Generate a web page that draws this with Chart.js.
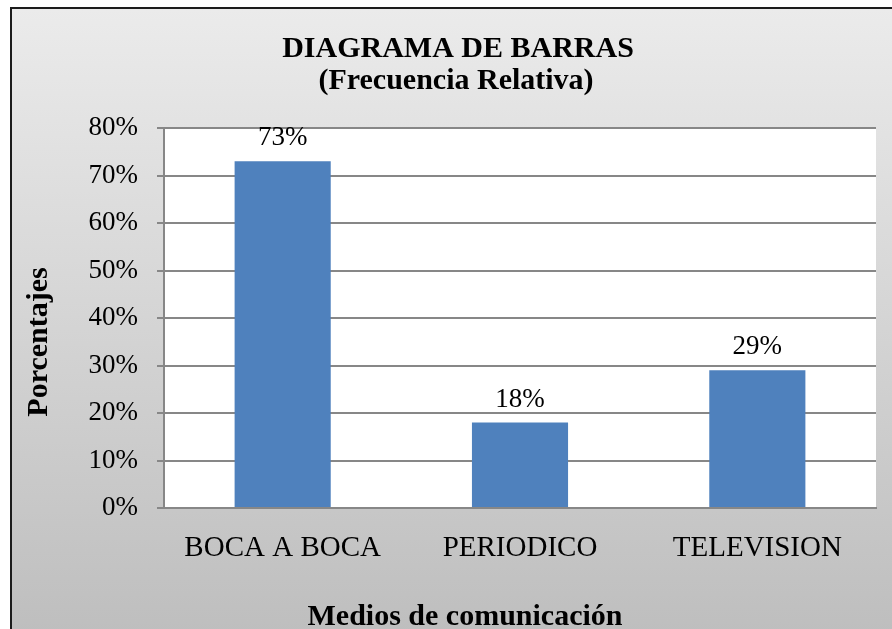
<!DOCTYPE html>
<html lang="es">
<head>
    <meta charset="UTF-8">
    <title>Diagrama de barras</title>
    <style>
        html, body { margin: 0; padding: 0; background: #fff; overflow: hidden; }
        .frame {
            position: absolute; left: 10px; top: 7px;
            width: 900px; height: 640px;
            border: 2px solid #1c1c1c;
            background: linear-gradient(#ebebeb, #bdbdbd);
        }
        #chart { position: absolute; left: 0; top: 0; }
    </style>
</head>
<body>
    <div class="frame"></div>
    <canvas id="chart" width="892" height="629"></canvas>

    <script src="https://cdn.jsdelivr.net/npm/chart.js"></script>
    <script>
        const categories = ['BOCA A BOCA', 'PERIODICO', 'TELEVISION'];
        const porcentajes = [73, 18, 29];
        const yTicks = [0, 10, 20, 30, 40, 50, 60, 70, 80];

        const serif = '"Liberation Serif", "Times New Roman", serif';
        const gridColor = '#878787';

        // fondo blanco del area de trazado
        const plotBg = {
            id: 'plotBg',
            beforeDraw(chart) {
                const a = chart.chartArea;
                chart.ctx.save();
                chart.ctx.fillStyle = '#fff';
                chart.ctx.fillRect(a.left, a.top, a.right - a.left, a.bottom - a.top);
                chart.ctx.restore();
            }
        };

        // titulos y etiquetas de valor
        const textos = {
            id: 'textos',
            afterDraw(chart) {
                const ctx = chart.ctx;
                ctx.save();
                ctx.fillStyle = '#000';
                ctx.textAlign = 'center';
                ctx.textBaseline = 'alphabetic';

                ctx.font = 'bold 30px ' + serif;
                ctx.fillText('DIAGRAMA DE BARRAS', 458, 57);
                ctx.fillText('(Frecuencia Relativa)', 456, 89);
                ctx.fillText('Medios de comunicación', 465, 625);

                ctx.save();
                ctx.translate(47, 342);
                ctx.rotate(-Math.PI / 2);
                ctx.fillText('Porcentajes', 0, 0);
                ctx.restore();

                ctx.font = '27px ' + serif;
                const meta = chart.getDatasetMeta(0);
                meta.data.forEach((bar, i) => {
                    ctx.fillText(porcentajes[i] + '%', bar.x, bar.y - 16);
                });
                ctx.restore();
            }
        };

        new Chart(document.getElementById('chart'), {
            type: 'bar',
            data: {
                labels: categories,
                datasets: [{
                    data: porcentajes,
                    backgroundColor: '#4f81bd',
                    borderWidth: 0,
                    categoryPercentage: 1,
                    barPercentage: 0.405
                }]
            },
            options: {
                responsive: false,
                animation: false,
                devicePixelRatio: 1,
                layout: { padding: { top: 128, right: 16, left: 0, bottom: 0 } },
                plugins: {
                    legend: { display: false },
                    tooltip: { enabled: false },
                    title: { display: false }
                },
                scales: {
                    x: {
                        grid: { display: false },
                        border: { display: true, color: gridColor, width: 2 },
                        ticks: { color: '#000', font: { family: serif, size: 29 }, padding: 15, maxRotation: 0 },
                        afterFit(scale) { scale.height = 121; }
                    },
                    y: {
                        min: 0,
                        max: 80,
                        afterBuildTicks(scale) { scale.ticks = yTicks.map(v => ({ value: v })); },
                        grid: { color: gridColor, lineWidth: 2, tickLength: 7 },
                        border: { display: true, color: gridColor, width: 2 },
                        ticks: {
                            color: '#000',
                            font: { family: serif, size: 27 },
                            padding: 19,
                            callback: v => v + '%'
                        },
                        afterFit(scale) { scale.width = 164; }
                    }
                }
            },
            plugins: [plotBg, textos]
        });
    </script>
</body>
</html>
